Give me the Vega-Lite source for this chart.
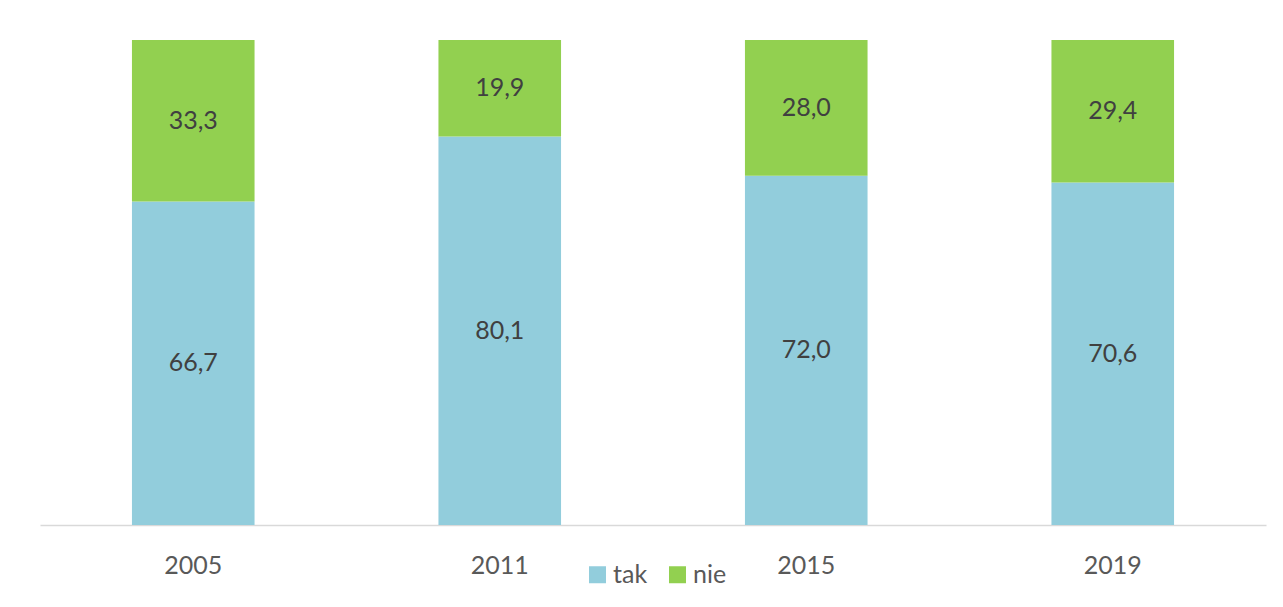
{
  "$schema": "https://vega.github.io/schema/vega-lite/v6.json",
  "autosize": "none",
  "width": 1226,
  "height": 485,
  "padding": {"left": 40, "top": 40, "right": 17, "bottom": 82},
  "background": "white",
  "config": {
    "locale": {"number": {"decimal": ",", "thousands": " ", "grouping": [3], "currency": ["", " zł"]}},
    "view": {"stroke": null},
    "font": "Lato"
  },
  "data": {
    "values": [
      {"year": "2005", "series": "tak", "order": 1, "value": 66.7},
      {"year": "2005", "series": "nie", "order": 2, "value": 33.3},
      {"year": "2011", "series": "tak", "order": 1, "value": 80.1},
      {"year": "2011", "series": "nie", "order": 2, "value": 19.9},
      {"year": "2015", "series": "tak", "order": 1, "value": 72.0},
      {"year": "2015", "series": "nie", "order": 2, "value": 28.0},
      {"year": "2019", "series": "tak", "order": 1, "value": 70.6},
      {"year": "2019", "series": "nie", "order": 2, "value": 29.4}
    ]
  },
  "transform": [
    {"stack": "value", "groupby": ["year"], "sort": [{"field": "order", "order": "ascending"}], "as": ["v0", "v1"]},
    {"calculate": "(datum.v0 + datum.v1) / 2", "as": "mid"}
  ],
  "encoding": {
    "x": {
      "field": "year", "type": "nominal", "title": null,
      "scale": {"paddingInner": 0.6, "paddingOuter": 0.3},
      "axis": {
        "labelAngle": 0, "labelFontSize": 25, "labelColor": "#595959", "labelFont": "Lato",
        "ticks": false, "domainColor": "#D9D9D9", "domainWidth": 1.5, "labelPadding": 28,
        "grid": false
      }
    }
  },
  "layer": [
    {
      "mark": {"type": "bar"},
      "encoding": {
        "y": {"field": "v0", "type": "quantitative", "scale": {"domain": [0, 100], "nice": false}, "axis": null},
        "y2": {"field": "v1"},
        "color": {
          "field": "series", "type": "nominal",
          "scale": {"domain": ["tak", "nie"], "range": ["#92CDDC", "#92D050"]},
          "legend": {
            "title": null, "orient": "none", "direction": "horizontal",
            "legendX": 545, "legendY": 522,
            "symbolType": "square", "symbolSize": 289, "symbolStrokeWidth": 0, "symbolOpacity": 1,
            "labelFontSize": 25, "labelColor": "#595959", "labelFont": "Lato",
            "labelOffset": 3, "columnPadding": 17
          }
        }
      }
    },
    {
      "mark": {"type": "text", "fontSize": 25, "color": "#404040", "font": "Lato"},
      "encoding": {
        "y": {"field": "mid", "type": "quantitative"},
        "text": {"field": "value", "type": "quantitative", "format": ".1f"}
      }
    }
  ]
}
